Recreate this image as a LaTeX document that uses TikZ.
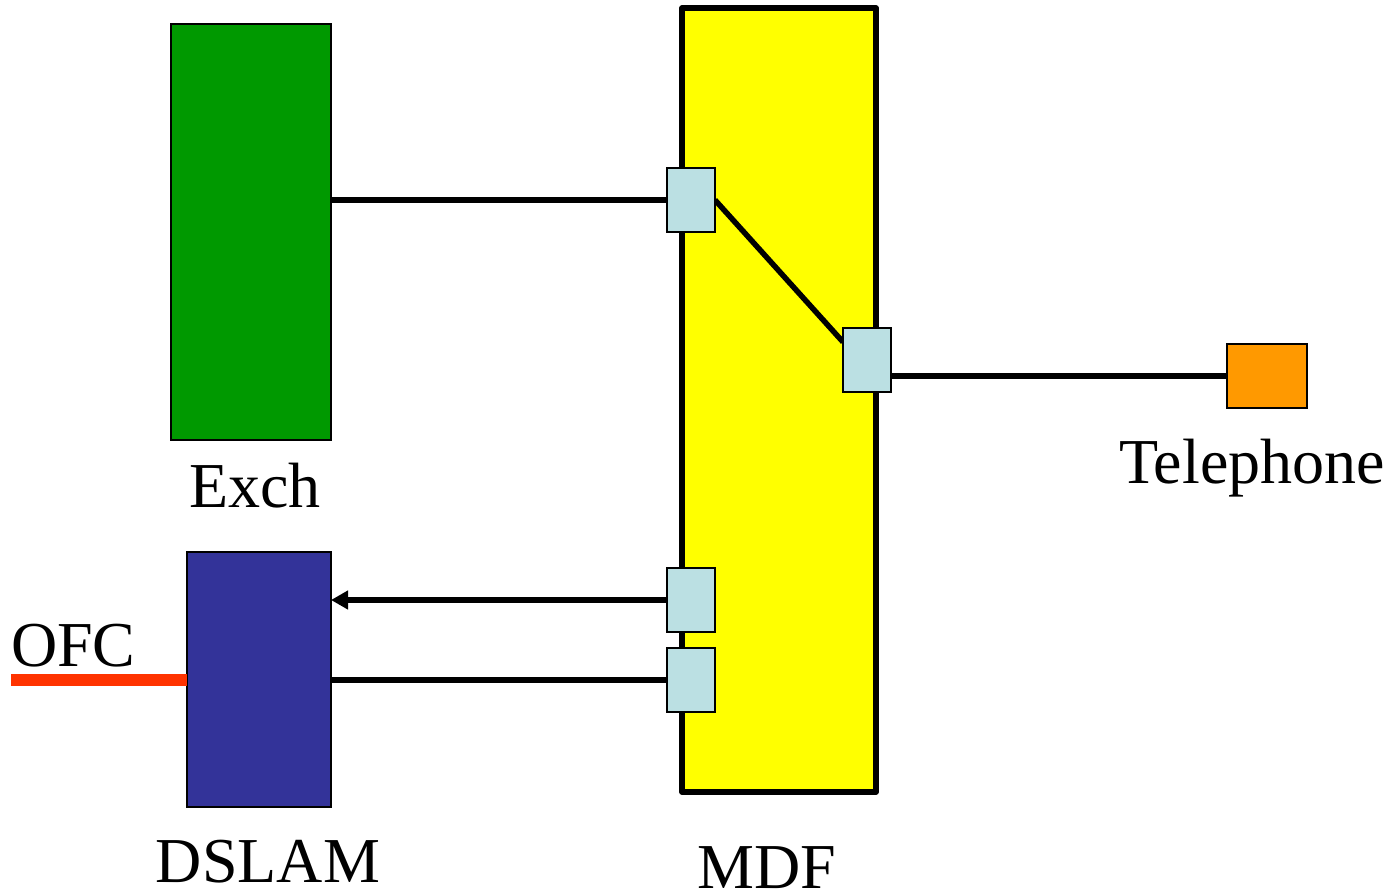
\documentclass[tikz,border=0pt]{standalone}
\usepackage{fontspec}
\setmainfont{Liberation Serif}
\usetikzlibrary{arrows.meta}
\definecolor{exchgreen}{HTML}{009900}
\definecolor{dslamblue}{HTML}{333399}
\definecolor{mdfyellow}{HTML}{FFFF00}
\definecolor{connblue}{HTML}{BBE0E3}
\definecolor{telorange}{HTML}{FF9900}
\definecolor{ofcred}{HTML}{FF3300}
\begin{document}
\begin{tikzpicture}[x=1pt,y=-1pt,
  box/.style={draw=black, line width=2pt, inner sep=0pt, outer sep=0pt},
  conn/.style={box, fill=connblue, minimum width=48pt, minimum height=64pt},
  wire/.style={draw=black, line width=5.5pt},
  lbl/.style={anchor=base, inner sep=0pt, font=\fontsize{64}{70}\selectfont}]
\useasboundingbox (0,0) rectangle (1396,894);
% main blocks
\node[box, fill=exchgreen, minimum width=160pt, minimum height=416pt] (exch) at (251,232) {};
\node[box, fill=dslamblue, minimum width=144pt, minimum height=255pt] (dslam) at (259,679.5) {};
\node[box, fill=mdfyellow, line width=5.5pt, line join=round, minimum width=194pt, minimum height=784pt] (mdf) at (779,400) {};
\node[box, fill=telorange, minimum width=80pt, minimum height=64pt] (tel) at (1267,376) {};
% connector blocks
\node[conn] (c1) at (691,200) {};
\node[conn] (c2) at (867,360) {};
\node[conn] (c3) at (691,600) {};
\node[conn] (c4) at (691,680) {};
% wires
\draw[wire] (exch.east |- c1.west) -- (c1.west);
\draw[wire] (c1.east) -- ([yshift=18pt]c2.west);
\draw[wire] (c2.east |- tel.west) -- (tel.west);
\draw[wire, -{Triangle[length=17pt,width=18pt]}] (c3.west) -- (dslam.east |- c3.west);
\draw[wire] (dslam.east |- c4.west) -- (c4.west);
\coordinate (ofcstart) at (11,680);
\draw[ofcred, line width=11.5pt] (ofcstart) -- (dslam.west |- ofcstart);
% redraw connector blocks on top of wire ends
\node[conn] at (c1.center) {};
\node[conn] at (c2.center) {};
\node[conn] at (c3.center) {};
\node[conn] at (c4.center) {};
% labels
\node[lbl] (exchlbl) at (255,507) {Exch};
\node[lbl] (tellbl) at (1252,483) {Telephone};
\node[lbl] (dslamlbl) at (268,882) {DSLAM};
\node[lbl] (mdflbl) at (767,888) {MDF};
\node[lbl, anchor=base west] (ofclbl) at (11,666) {OFC};
\end{tikzpicture}
\end{document}
